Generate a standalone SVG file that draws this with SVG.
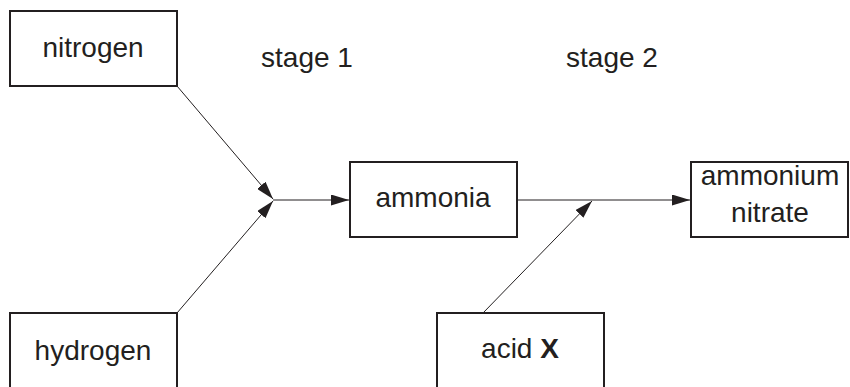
<svg xmlns="http://www.w3.org/2000/svg" width="850" height="387" viewBox="0 0 850 387">
<style>
.box{fill:#fff;stroke:#231f20;stroke-width:2}
.t{font-family:"Liberation Sans",Arial,sans-serif;font-size:28px;fill:#231f20;text-anchor:middle}
.c{fill:none;stroke:#231f20;stroke-width:1}
</style>
<defs>
<marker id="ah" markerWidth="18" markerHeight="11" refX="18" refY="5.5" orient="auto" markerUnits="userSpaceOnUse">
<path d="M0,0 L18,5.5 L0,11 Z" fill="#231f20"/>
</marker>
</defs>
<rect width="850" height="387" fill="#fff"/>
<g id="connectors">
<line class="c" x1="177" y1="86" x2="273" y2="199" marker-end="url(#ah)"/>
<line class="c" x1="177" y1="313" x2="273" y2="201" marker-end="url(#ah)"/>
<line class="c" x1="273" y1="200" x2="349" y2="200" marker-end="url(#ah)"/>
<line class="c" x1="517" y1="200" x2="690" y2="200" marker-end="url(#ah)"/>
<line class="c" x1="483" y1="313" x2="592" y2="201" marker-end="url(#ah)"/>
</g>
<g id="nitrogen"><rect class="box" x="10" y="11" width="167" height="75"/><text class="t" x="93" y="57">nitrogen</text></g>
<g id="hydrogen"><rect class="box" x="10" y="313" width="167" height="100"/><text class="t" x="93" y="360">hydrogen</text></g>
<g id="stage1"><text class="t" x="307" y="67">stage 1</text></g>
<g id="stage2"><text class="t" x="612" y="67">stage 2</text></g>
<g id="ammonia"><rect class="box" x="350" y="162" width="167" height="75"/><text class="t" x="433" y="207">ammonia</text></g>
<g id="ammonium-nitrate"><rect class="box" x="691" y="162" width="157" height="75"/><text class="t" x="770" y="185">ammonium</text><text class="t" x="770" y="222">nitrate</text></g>
<g id="acid-x"><rect class="box" x="437" y="313" width="167" height="100"/><text class="t" x="520" y="358">acid <tspan font-weight="bold">X</tspan></text></g>
</svg>
